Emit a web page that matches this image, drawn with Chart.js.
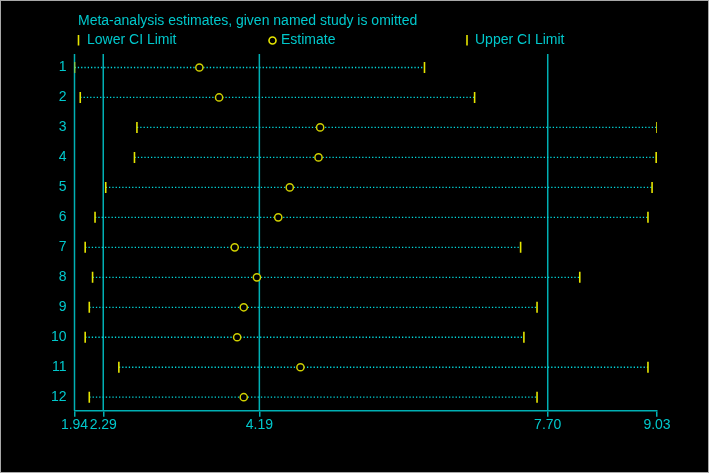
<!DOCTYPE html>
<html>
<head>
<meta charset="utf-8">
<script src="https://cdn.jsdelivr.net/npm/chart.js@4/dist/chart.umd.min.js"></script>
<style>
  html, body { margin: 0; padding: 0; background: #000; }
  canvas { display: block; }
</style>
</head>
<body>
<canvas id="chart1" width="709" height="473"></canvas>
<script>
// study omitted, and the pooled estimate with its CI when that study is left out
let studies = [1, 2, 3, 4, 5, 6, 7, 8, 9, 10, 11, 12]
let lowerCI = [1.94, 2.01, 2.70, 2.67, 2.32, 2.19, 2.07, 2.16, 2.12, 2.07, 2.48, 2.12]
let estimate = [3.46, 3.70, 4.93, 4.91, 4.56, 4.42, 3.89, 4.16, 4.00, 3.92, 4.69, 4.00]
let upperCI = [6.20, 6.81, 9.03, 9.02, 8.97, 8.92, 7.37, 8.09, 7.57, 7.41, 8.92, 7.57]
let xTicks = [1.94, 2.29, 4.19, 7.70, 9.03]
let refLines = [1.94, 2.29, 4.19, 7.70]

const cyan = '#00c8cc'
const lineCyan = '#00b0b4'
const yellow = '#e6e600'
const font = { family: '"Liberation Sans", Arial, sans-serif', size: 14 }

// dotted line for each study, lower to upper limit
const segments = studies.map((s, i) => ({
    type: 'line',
    data: [{ x: lowerCI[i], y: s }, { x: upperCI[i], y: s }],
    borderColor: '#00d8dc',
    borderWidth: 1.3,
    borderDash: [1.3, 2],
    pointRadius: 0,
    order: 3
}))

const limitStyle = {
    pointStyle: 'line',
    rotation: 90,
    radius: 5.5,
    borderColor: yellow,
    borderWidth: 1.6,
    order: 2
}

// reference lines, title, legend and frame
const decor = {
    id: 'decor',
    beforeDatasetsDraw(chart) {
        const { ctx, chartArea, scales: { x } } = chart
        ctx.save()
        ctx.strokeStyle = lineCyan
        ctx.lineWidth = 1.5
        refLines.forEach(v => {
            const px = x.getPixelForValue(v)
            ctx.beginPath()
            ctx.moveTo(px, chartArea.top)
            ctx.lineTo(px, chartArea.bottom)
            ctx.stroke()
        })
        ctx.restore()
    },
    afterDraw(chart) {
        const ctx = chart.ctx
        ctx.save()
        ctx.font = '14px ' + font.family
        ctx.fillStyle = cyan
        ctx.textBaseline = 'middle'
        ctx.fillText('Meta-analysis estimates, given named study is omitted', 78, 21)
        ctx.fillText('Lower CI Limit', 87, 40)
        ctx.fillText('Estimate', 281, 40)
        ctx.fillText('Upper CI Limit', 475, 40)
        ctx.strokeStyle = yellow
        ctx.lineWidth = 1.6
        ;[78.5, 467].forEach(px => {
            ctx.beginPath()
            ctx.moveTo(px, 35)
            ctx.lineTo(px, 45.5)
            ctx.stroke()
        })
        ctx.beginPath()
        ctx.arc(272.5, 40.5, 3.5, 0, Math.PI * 2)
        ctx.stroke()
        ctx.strokeStyle = '#a8a8a8'
        ctx.lineWidth = 1
        ctx.strokeRect(0.5, 0.5, chart.width - 1, chart.height - 1)
        ctx.restore()
    }
}

new Chart(document.getElementById('chart1'), {
    type: 'scatter',
    data: {
        datasets: [
            {
                data: studies.map((s, i) => ({ x: estimate[i], y: s })),
                pointStyle: 'circle',
                radius: 3.6,
                backgroundColor: '#000',
                borderColor: '#d0d000',
                borderWidth: 1.5,
                order: 1
            },
            Object.assign({ data: studies.map((s, i) => ({ x: lowerCI[i], y: s })) }, limitStyle),
            Object.assign({ data: studies.map((s, i) => ({ x: upperCI[i], y: s })) }, limitStyle),
            ...segments
        ]
    },
    options: {
        responsive: false,
        animation: false,
        layout: { padding: { left: 0, right: 52, top: 54, bottom: 0 } },
        plugins: { legend: { display: false }, tooltip: { enabled: false } },
        scales: {
            x: {
                type: 'linear',
                min: 1.94,
                max: 9.03,
                afterBuildTicks: scale => { scale.ticks = xTicks.map(v => ({ value: v })) },
                afterFit: scale => { scale.height = 62.3 },
                ticks: {
                    autoSkip: false,
                    maxRotation: 0,
                    padding: 0,
                    color: cyan,
                    font: font,
                    callback: v => v.toFixed(2)
                },
                grid: { drawOnChartArea: false, drawTicks: true, tickLength: 6, color: lineCyan, lineWidth: 1.5 },
                border: { display: true, color: lineCyan, width: 1.5 }
            },
            y: {
                type: 'linear',
                reverse: true,
                min: 0.55,
                max: 12.45,
                afterBuildTicks: scale => { scale.ticks = studies.map(v => ({ value: v })) },
                afterFit: scale => { scale.width = 74.5 },
                ticks: { padding: 8, color: cyan, font: font, callback: v => String(v) },
                grid: { display: false, drawTicks: false, tickLength: 0 },
                border: { display: false }
            }
        }
    },
    plugins: [decor]
})
</script>
</body>
</html>
